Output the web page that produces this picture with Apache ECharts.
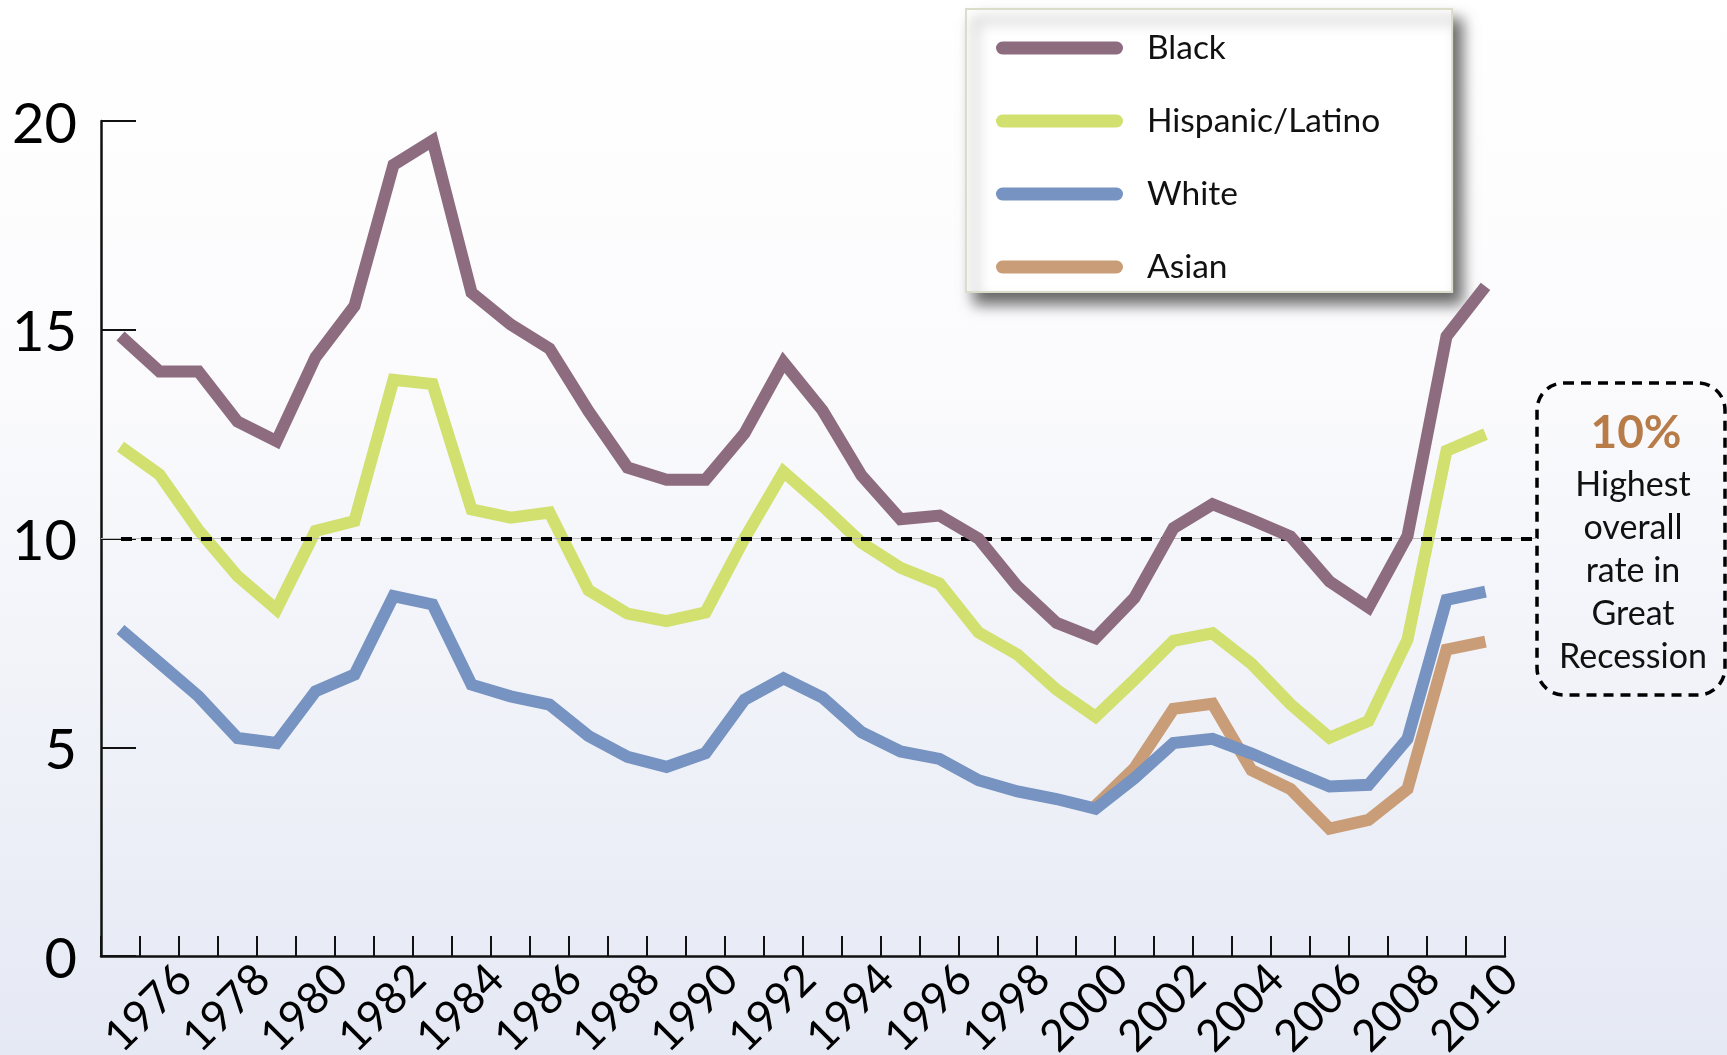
<!DOCTYPE html>
<html>
<head>
<meta charset="utf-8">
<script src="https://cdn.jsdelivr.net/npm/echarts@6/dist/echarts.min.js"></script>
<style>
html,body{margin:0;padding:0;background:#fff;}
#chart{width:1727px;height:1055px;}
</style>
</head>
<body>
<div id="chart"></div>
<script>
// ---- data ----
const years = ['1975','1976','1977','1978','1979','1980','1981','1982','1983','1984','1985','1986','1987','1988','1989','1990','1991','1992','1993','1994','1995','1996','1997','1998','1999','2000','2001','2002','2003','2004','2005','2006','2007','2008','2009','2010'];
const black = [14.85,14.0,14.0,12.8,12.33,14.34,15.57,18.95,19.53,15.89,15.13,14.55,13.05,11.7,11.41,11.41,12.52,14.22,13.07,11.51,10.46,10.55,10.0,8.85,7.98,7.61,8.58,10.25,10.82,10.45,10.05,8.97,8.35,10.06,14.84,16.04];
const hispanic = [12.2,11.53,10.2,9.1,8.3,10.18,10.42,13.8,13.7,10.7,10.5,10.62,8.76,8.2,8.02,8.23,10.0,11.6,10.78,9.9,9.3,8.92,7.75,7.22,6.38,5.73,6.62,7.55,7.73,7.0,6.03,5.23,5.63,7.58,12.1,12.5];
const white = [7.82,7.02,6.22,5.22,5.1,6.34,6.74,8.62,8.42,6.5,6.22,6.02,5.27,4.77,4.53,4.86,6.14,6.65,6.19,5.36,4.9,4.72,4.21,3.94,3.76,3.53,4.26,5.1,5.2,4.85,4.45,4.06,4.1,5.2,8.53,8.73];
const asian = [null,null,null,null,null,null,null,null,null,null,null,null,null,null,null,null,null,null,null,null,null,null,null,null,null,3.6,4.5,5.92,6.04,4.45,4.0,3.05,3.26,4.0,7.34,7.53];
const seriesNames = ['Black','Hispanic/Latino','White','Asian'];
const yTicks = [0,5,10,15,20];
const refValue = 10;
const noteTitle = '10%';
const noteText = ['Highest','overall','rate in','Great','Recession'];

// ---- styles ----
const colors = {Black:'#8d6c80','Hispanic/Latino':'#d2e070',White:'#7693c1',Asian:'#c99d77'};
const FONT = 'Lato';

const chart = echarts.init(document.getElementById('chart'), null, {renderer:'canvas'});

function lineSeries(name, data, z){
  return {
    name, type:'line', data, xAxisIndex:0, yAxisIndex:0,
    showSymbol:false, symbol:'none', connectNulls:false, z,
    color: colors[name],
    itemStyle:{color: colors[name]},
    lineStyle:{color: colors[name], width:12, cap:'butt', join:'miter'},
    emphasis:{disabled:true}, silent:true, animation:false
  };
}

const option = {
  animation:false,
  backgroundColor:{type:'linear',x:0,y:0,x2:0,y2:1,colorStops:[
    {offset:0,color:'#ffffff'},{offset:0.35,color:'#fbfbfd'},{offset:1,color:'#e5e9f4'}]},
  grid:[
    {left:101,right:222,top:121,bottom:99,containLabel:false,outerBoundsMode:'none'},
    {left:126,right:197,top:121,bottom:99,containLabel:false,outerBoundsMode:'none'}
  ],
  xAxis:[
    {type:'category',gridIndex:0,data:years,boundaryGap:true,
     axisLine:{show:true,lineStyle:{color:'#111',width:2.5}},
     axisTick:{show:true,inside:true,length:20,interval:0,lineStyle:{color:'#111',width:2}},
     axisLabel:{show:false},splitLine:{show:false}},
    {type:'category',gridIndex:1,data:years,boundaryGap:true,
     axisLine:{show:false},axisTick:{show:false},splitLine:{show:false},
     axisLabel:{show:true,rotate:45,margin:16,fontFamily:FONT,fontSize:44,color:'#000',
       interval:function(idx){return idx%2===1;}}}
  ],
  yAxis:[
    {type:'value',gridIndex:0,min:yTicks[0],max:yTicks[yTicks.length-1],interval:5,
     axisLine:{show:true,lineStyle:{color:'#111',width:2.5}},
     axisTick:{show:true,inside:true,length:35,lineStyle:{color:'#111',width:2}},
     axisLabel:{show:true,margin:24,fontFamily:FONT,fontSize:56,color:'#000',
       verticalAlign:'top',lineHeight:7},
     splitLine:{show:false}},
    {type:'value',gridIndex:1,min:0,max:20,show:false}
  ],
  legend:{
    show:true, orient:'vertical', left:966, top:9,
    data:seriesNames,
    icon:'path://M6.5,0 H121.5 A6.5,6.5 0 0 1 121.5,13 H6.5 A6.5,6.5 0 0 1 6.5,0 Z',
    itemWidth:127, itemHeight:13, itemGap:33,
    padding:[19,72,5,30],
    backgroundColor:'#ffffff', borderColor:'#dcdccb', borderWidth:2, borderRadius:0,
    shadowBlur:14, shadowColor:'rgba(0,0,0,0.6)', shadowOffsetX:9, shadowOffsetY:11,
    selectedMode:false,
    itemStyle:{borderWidth:0},
    textStyle:{fontFamily:FONT,fontSize:33.5,color:'#111',lineHeight:40,padding:[0,0,0,19]}
  },
  series:[
    {name:'ref', type:'line', data:[], xAxisIndex:0, yAxisIndex:0, z:1, silent:true,
     markLine:{silent:true, symbol:['none','none'], label:{show:false}, animation:false,
       data:[
         [{x:101,yAxis:refValue,lineStyle:{color:'#bdbdbd',width:1.2,type:'solid'}},{x:1537,yAxis:refValue}],
         [{x:121,yAxis:refValue,lineStyle:{color:'#000',width:4,type:[11,9]}},{x:1537,yAxis:refValue}]
       ]}},
    lineSeries('Asian', asian, 2),
    lineSeries('White', white, 3),
    lineSeries('Hispanic/Latino', hispanic, 4),
    lineSeries('Black', black, 5)
  ],
  graphic:[
    {type:'rect', shape:{x:1537,y:383,width:188,height:312,r:27},
     style:{fill:'none',stroke:'#000',lineWidth:3.5,lineDash:[10,7]}, silent:true},
    {type:'text', style:{text:noteTitle,x:1636,y:433,align:'center',verticalAlign:'middle',
       fontFamily:FONT,fontWeight:'bold',fontSize:46,fill:'#b87c49'}, silent:true},
    {type:'text', style:{text:noteText.join('\n'),x:1633,y:571,align:'center',verticalAlign:'middle',
       fontFamily:FONT,fontSize:34,lineHeight:43,fill:'#111'}, silent:true}
  ]
};
chart.setOption(option);
</script>
</body>
</html>
